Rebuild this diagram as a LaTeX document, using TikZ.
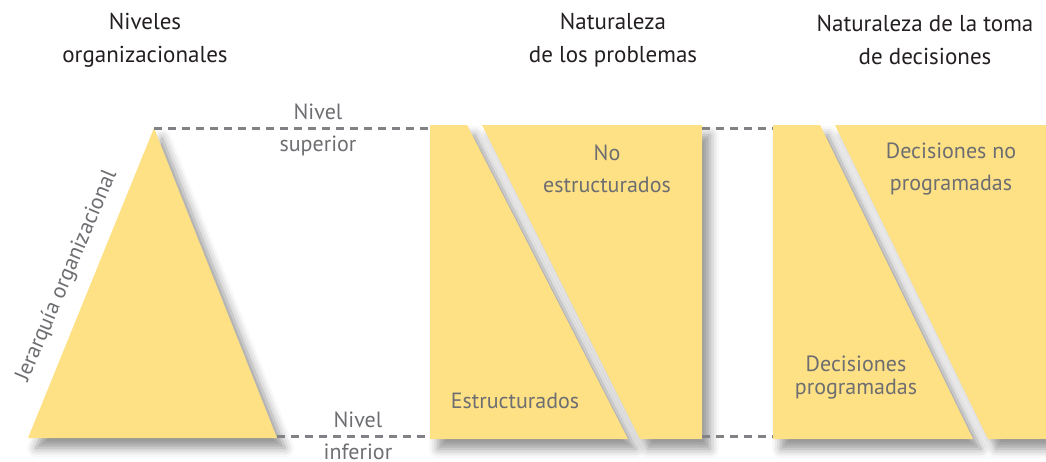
\documentclass[tikz,border=0pt]{standalone}
\usepackage{fontspec}
\setmainfont{PT Sans}
\usetikzlibrary{shadows.blur}
\definecolor{amarillo}{HTML}{FEE085}
\definecolor{grisTexto}{HTML}{6D6E71}
\definecolor{grisLinea}{HTML}{808285}
\definecolor{titulo}{HTML}{231F20}

\begin{document}
\begin{tikzpicture}[x=1pt,y=-1pt,line join=round,
  pieza/.style={fill=amarillo,blur shadow={shadow xshift=8pt,shadow yshift=-10pt,
      shadow blur radius=9pt,shadow opacity=42}},
  guia/.style={draw=grisLinea,line width=2.4pt,dash pattern=on 8pt off 6pt},
  cabecera/.style={align=center,text=titulo,inner sep=0pt,
      font=\fontsize{23}{33}\selectfont},
  rotulo/.style={align=center,text=grisTexto,inner sep=0pt,
      font=\fontsize{22}{32}\selectfont}]
  \useasboundingbox (0,0) rectangle (1046,461);
  % piramide
  \coordinate (cima) at (154,128);
  \coordinate (baseIzq) at (28,438);
  \coordinate (baseDer) at (277,438);
  \fill[pieza] (cima) -- (baseDer) -- (baseIzq) -- cycle;
  % problemas
  \fill[pieza] (430,125) -- (467,125) -- (628,439) -- (430,439) -- cycle;
  \fill[pieza] (482,125) -- (702,125) -- (702,439) -- (640,439) -- cycle;
  % decisiones
  \fill[pieza] (773,125) -- (820,125) -- (973,439) -- (773,439) -- cycle;
  \fill[pieza] (835,125) -- (1046,125) -- (1046,439) -- (988,439) -- cycle;
  % lineas de nivel
  \coordinate (probSupIzq) at (430,128.5);
  \coordinate (probInfIzq) at (430,436.5);
  \coordinate (probSupDer) at (702,128.5);
  \coordinate (probInfDer) at (702,436.5);
  \coordinate (decSupIzq) at (773,128.5);
  \coordinate (decInfIzq) at (773,436.5);
  \draw[guia] (cima |- probSupIzq) -- (probSupIzq);
  \draw[guia] (baseDer |- probInfIzq) -- (probInfIzq);
  \draw[guia] (probSupDer) -- (decSupIzq);
  \draw[guia] (probInfDer) -- (decInfIzq);
  % textos
  \node[cabecera] (niveles) at (145,40) {Niveles\\organizacionales};
  \node[cabecera] (natProb) at (613,40) {Naturaleza\\de los problemas};
  \node[cabecera] (natDec) at (925,40) {Naturaleza de la toma\\de decisiones};
  \node[rotulo] (superior) at (318,130) {Nivel\\superior};
  \node[rotulo] (inferior) at (358,436) {Nivel\\inferior};
  \node[rotulo] (noEstr) at (607,169) {No\\estructurados};
  \node[rotulo] (estr) at (515,401) {Estructurados};
  \node[rotulo] (noProg) at (951,169) {Decisiones no\\programadas};
  \node[rotulo,font=\fontsize{22}{23}\selectfont] (prog) at (856,378)
      {Decisiones\\programadas};
  \node[rotulo,rotate=67] (jerarquia) at (67,276) {Jerarquía organizacional};
\end{tikzpicture}
\end{document}
